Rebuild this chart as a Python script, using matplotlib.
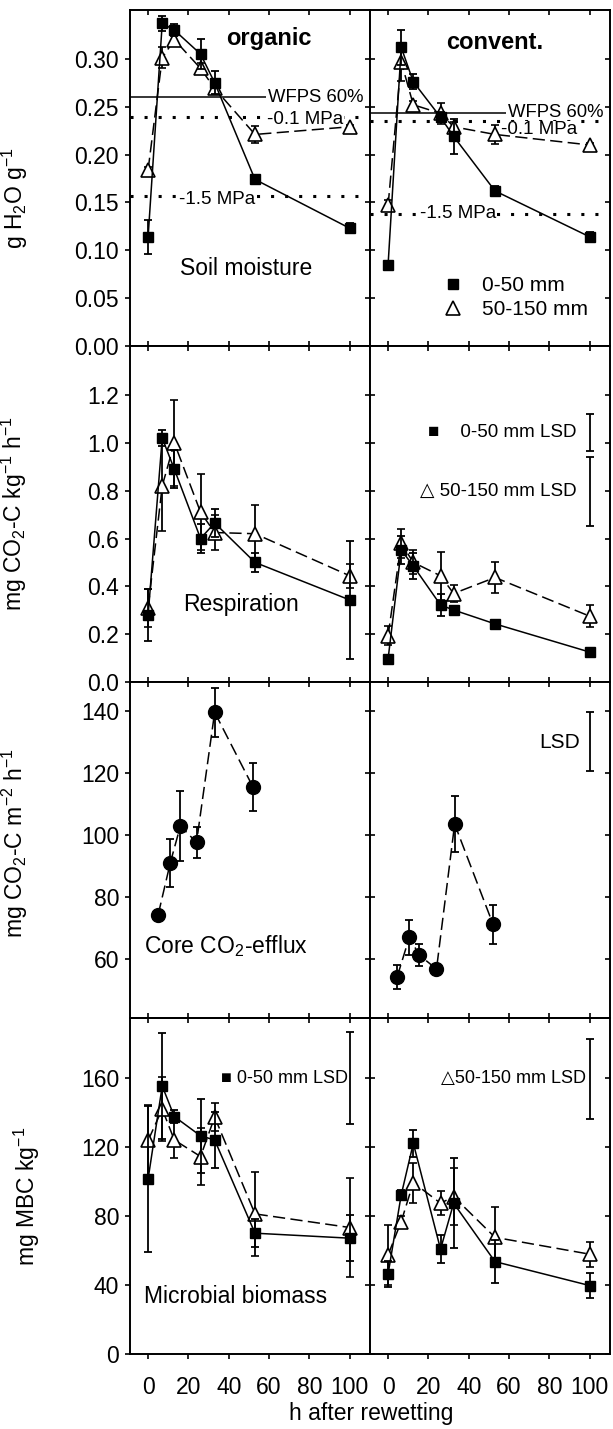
import numpy as np
import matplotlib
matplotlib.use("Agg")
import matplotlib.pyplot as plt
from matplotlib.lines import Line2D

plt.rcParams['font.family'] = ['Liberation Sans', 'DejaVu Sans']
plt.rcParams['font.size'] = 16.5
plt.rcParams['mathtext.fontset'] = 'custom'
plt.rcParams['mathtext.rm'] = 'Liberation Sans'
plt.rcParams['mathtext.default'] = 'regular'
plt.rcParams['axes.linewidth'] = 1.4

# hours after rewetting
t_org = [0, 7, 13, 26, 33, 53, 100]
t_conv = [0, 6.5, 12.5, 26, 32.5, 53, 100]
t_core_org = [5, 11, 16, 24, 33, 52]
t_core_conv = [4.5, 10.5, 15.5, 24, 33, 52]

# soil moisture, g H2O g-1
moist_org_0_50 = [0.114, 0.337, 0.330, 0.305, 0.275, 0.174, 0.123]
moist_org_0_50_err = [0.018, 0.008, 0.006, 0.016, 0.012, 0.003, 0.005]
moist_org_50_150 = [0.184, 0.301, 0.320, 0.290, 0.269, 0.221, 0.229]
moist_org_50_150_err = [0.003, 0.011, 0.005, 0.006, 0.005, 0.009, 0.002]
moist_conv_0_50 = [0.085, 0.312, 0.276, 0.239, 0.219, 0.162, 0.114]
moist_conv_0_50_err = [0.002, 0.018, 0.008, 0.005, 0.018, 0.005, 0.005]
moist_conv_50_150 = [0.147, 0.297, 0.252, 0.243, 0.229, 0.221, 0.210]
moist_conv_50_150_err = [0.006, 0.020, 0.004, 0.011, 0.005, 0.010, 0.002]

# reference water contents (organic, convent.)
wfps60 = [0.260, 0.2435]
mpa01 = [0.239, 0.235]
mpa15 = [0.157, 0.138]

# respiration, mg CO2-C kg-1 h-1
resp_org_0_50 = [0.28, 1.02, 0.89, 0.60, 0.665, 0.50, 0.343]
resp_org_0_50_err = [0.11, 0.035, 0.08, 0.06, 0.06, 0.04, 0.245]
resp_org_50_150 = [0.31, 0.82, 1.00, 0.71, 0.625, 0.62, 0.444]
resp_org_50_150_err = [0.08, 0.19, 0.18, 0.16, 0.075, 0.12, 0.05]
resp_conv_0_50 = [0.097, 0.552, 0.485, 0.322, 0.301, 0.243, 0.125]
resp_conv_0_50_err = [0, 0.06, 0.055, 0.045, 0, 0, 0]
resp_conv_50_150 = [0.194, 0.58, 0.50, 0.444, 0.37, 0.437, 0.275]
resp_conv_50_150_err = [0.04, 0.06, 0.05, 0.10, 0.035, 0.063, 0.045]
resp_lsd = [0.155, 0.29]

# core CO2 efflux, mg CO2-C m-2 h-1
core_org = [74.4, 91.1, 103.0, 97.7, 139.7, 115.6]
core_org_err = [0, 7.8, 11.3, 5.1, 8.0, 7.6]
core_conv = [54.3, 67.0, 61.3, 56.8, 103.6, 71.3]
core_conv_err = [3.8, 5.7, 3.5, 0, 9.1, 6.3]
core_lsd = 19.0

# microbial biomass, mg MBC kg-1
mbc_org_0_50 = [101.6, 155.5, 137.8, 126.6, 124.2, 70.1, 67.2]
mbc_org_0_50_err = [42.6, 31, 4, 21.6, 16.5, 8, 13.5]
mbc_org_50_150 = [123.9, 142.1, 124.2, 114.6, 137.5, 81.3, 73.4]
mbc_org_50_150_err = [20.4, 18.5, 10.6, 16.5, 8, 24.6, 28.6]
mbc_conv_0_50 = [46.4, 92.3, 122.3, 60.8, 87.5, 53.6, 39.7]
mbc_conv_0_50_err = [7.3, 3, 7.8, 8.2, 26, 12.6, 7.4]
mbc_conv_50_150 = [57.5, 76.8, 99.5, 87.5, 91.3, 67.7, 57.9]
mbc_conv_50_150_err = [17.4, 3, 11.6, 6.8, 16.5, 17.4, 7.3]
mbc_lsd = [53.6, 46.4]

xticks = [0, 20, 40, 60, 80, 100]
yticks = [np.arange(0, 0.31, 0.05), np.arange(0, 1.21, 0.2),
          np.arange(60, 141, 20), np.arange(0, 161, 40)]
ylims = [(0, 0.351), (0, 1.405), (41, 149.5), (0, 195)]
ylabels = ['g H$_2$O g$^{-1}$', 'mg CO$_2$-C kg$^{-1}$ h$^{-1}$',
           'mg CO$_2$-C m$^{-2}$ h$^{-1}$', 'mg MBC kg$^{-1}$']
ylab_pos = [(-0.415, 0.44), (-0.42, 0.50), (-0.415, 0.52), (-0.365, 0.47)]

ebkw = dict(color='k', elinewidth=1.3, capsize=3.2, capthick=1.3)


def squares(ax, t, y, e):
    ax.errorbar(t, y, yerr=e, fmt='-s', mfc='k', mec='k', ms=7.2, lw=1.1,
                zorder=4, **ebkw)


def triangles(ax, t, y, e):
    ax.errorbar(t, y, yerr=e, fmt='^', ls='--', dashes=(8, 3.5), mfc='white',
                mec='k', mew=1.2, ms=9.5, lw=1.1, zorder=3, **ebkw)


def circles(ax, t, y, e):
    ax.errorbar(t, y, yerr=e, fmt='o', ls='--', dashes=(8, 3.5), mfc='k',
                mec='k', ms=10, lw=1.1, zorder=3, **ebkw)


fig, axes = plt.subplots(4, 2, figsize=(6.13, 14.29), dpi=100,
                         sharex=True, sharey='row')
fig.subplots_adjust(left=0.212, right=0.995, top=0.993, bottom=0.0525,
                    hspace=0, wspace=0)

for r in range(4):
    for c in range(2):
        ax = axes[r, c]
        ax.set_xlim(-9, 110)
        ax.set_ylim(*ylims[r])
        ax.set_xticks(xticks)
        ax.set_yticks(yticks[r])
        if c == 0:
            ax.tick_params(axis='y', direction='out', right=False,
                           length=3.8, width=1.2, pad=4)
            sy = ax.secondary_yaxis('right')
            sy.set_yticks(yticks[r])
            sy.tick_params(direction='in', labelright=False, length=3.8, width=1.2)
            ax.set_ylabel(ylabels[r])
            ax.yaxis.set_label_coords(*ylab_pos[r])
        else:
            ax.tick_params(axis='y', direction='in', left=True, right=True,
                           labelleft=False, length=3.8, width=1.2)
        if r < 3:
            ax.tick_params(axis='x', direction='in', top=True, bottom=True,
                           labelbottom=False, length=3.8, width=1.2)
        else:
            ax.tick_params(axis='x', direction='out', top=False,
                           length=3.8, width=1.2, pad=12)
            sx = ax.secondary_xaxis('top')
            sx.set_xticks(xticks)
            sx.tick_params(direction='in', labeltop=False, length=3.8, width=1.2)

dot = (0, (1, 3.6))
tbox = dict(fc='white', ec='none', pad=0.3)

# row 1: soil moisture
for c, (ax, t) in enumerate(zip(axes[0], [t_org, t_conv])):
    ax.hlines(wfps60[c], -9, 58.5, color='k', lw=1.1, zorder=1)
    ax.axhline(mpa01[c], color='k', lw=2.2, ls=dot, zorder=1)
    ax.axhline(mpa15[c], color='k', lw=2.2, ls=dot, zorder=1)
    ax.text(59.3, wfps60[c], 'WFPS 60%', fontsize=13.3, va='center', ha='left')
ax = axes[0, 0]
triangles(ax, t_org, moist_org_50_150, moist_org_50_150_err)
squares(ax, t_org, moist_org_0_50, moist_org_0_50_err)
ax.text(59, 0.2365, '-0.1 MPa', fontsize=13.5, va='center', bbox=tbox, zorder=2)
ax.text(15.5, 0.1535, '-1.5 MPa', fontsize=13.5, va='center', bbox=tbox, zorder=2)
ax.text(15.7, 0.081, 'Soil moisture', va='center', fontsize=16.5)
ax.text(0.577, 0.916, 'organic', transform=ax.transAxes, ha='center',
        va='center', fontweight='bold', fontsize=17)
ax = axes[0, 1]
triangles(ax, t_conv, moist_conv_50_150, moist_conv_50_150_err)
squares(ax, t_conv, moist_conv_0_50, moist_conv_0_50_err)
ax.text(56, 0.226, '-0.1 MPa', fontsize=13.5, va='center', bbox=tbox, zorder=2)
ax.text(16, 0.1385, '-1.5 MPa', fontsize=13.5, va='center', bbox=tbox, zorder=2)
ax.text(0.519, 0.904, 'convent.', transform=ax.transAxes, ha='center',
        va='center', fontweight='bold', fontsize=17)
h_sq = Line2D([], [], marker='s', ls='none', color='k', ms=7.2)
h_tri = Line2D([], [], marker='^', ls='none', mfc='white', mec='k', mew=1.2, ms=10)
ax.legend([h_sq, h_tri], ['0-50 mm', '50-150 mm'], frameon=False, fontsize=15,
          loc='center left', bbox_to_anchor=(0.26, 0.144), borderpad=0,
          handlelength=1.0, handletextpad=0.9, labelspacing=0.25)

# row 2: respiration
ax = axes[1, 0]
triangles(ax, t_org, resp_org_50_150, resp_org_50_150_err)
squares(ax, t_org, resp_org_0_50, resp_org_0_50_err)
ax.text(17.3, 0.326, 'Respiration', va='center', fontsize=16.5)
ax = axes[1, 1]
triangles(ax, t_conv, resp_conv_50_150, resp_conv_50_150_err)
squares(ax, t_conv, resp_conv_0_50, resp_conv_0_50_err)
lsd_y = [1.045, 0.797]
for yc, lsd in zip(lsd_y, resp_lsd):
    ax.errorbar([100], [yc], yerr=[lsd / 2], fmt='none', **ebkw)
ax.text(93.5, lsd_y[0], '\u25a0    0-50 mm LSD', ha='right', va='center', fontsize=13.5)
ax.text(93.5, lsd_y[1], '\u25b3 50-150 mm LSD', ha='right', va='center', fontsize=13.5)

# row 3: core CO2 efflux
ax = axes[2, 0]
circles(ax, t_core_org, core_org, core_org_err)
ax.text(-2.1, 64.3, 'Core CO$_2$-efflux', va='center', fontsize=16.5)
ax = axes[2, 1]
circles(ax, t_core_conv, core_conv, core_conv_err)
ax.errorbar([100], [130.2], yerr=[core_lsd / 2], fmt='none', **ebkw)
ax.text(95, 129.8, 'LSD', ha='right', va='center', fontsize=15)

# row 4: microbial biomass
ax = axes[3, 0]
triangles(ax, t_org, mbc_org_50_150, mbc_org_50_150_err)
squares(ax, t_org, mbc_org_0_50, mbc_org_0_50_err)
ax.errorbar([100], [160], yerr=[mbc_lsd[0] / 2], fmt='none', **ebkw)
ax.text(99, 160, '\u25a0 0-50 mm LSD', ha='right', va='center', fontsize=13)
ax.text(-2.1, 33.3, 'Microbial biomass', va='center', fontsize=16.5)
ax = axes[3, 1]
triangles(ax, t_conv, mbc_conv_50_150, mbc_conv_50_150_err)
squares(ax, t_conv, mbc_conv_0_50, mbc_conv_0_50_err)
ax.errorbar([100], [159.8], yerr=[mbc_lsd[1] / 2], fmt='none', **ebkw)
ax.text(98, 160, '\u25b350-150 mm LSD', ha='right', va='center', fontsize=13)

fig.text(371 / 613, 0.0105, 'h after rewetting', ha='center', va='center', fontsize=16.5)

fig.savefig('out.png', dpi=100)
